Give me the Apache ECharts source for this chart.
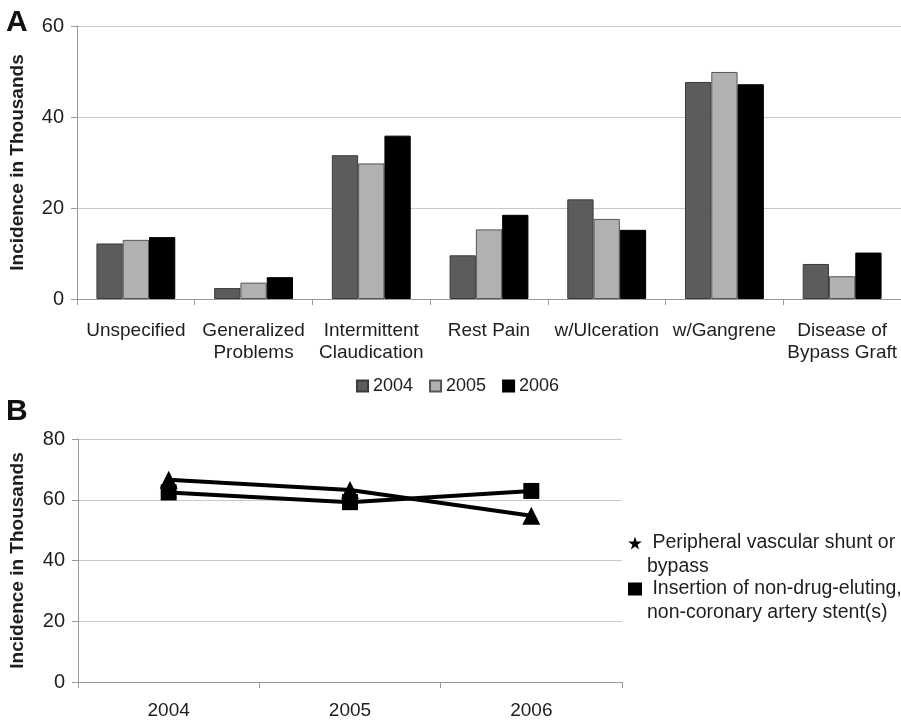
<!DOCTYPE html>
<html>
<head>
<meta charset="utf-8">
<script src="https://cdn.jsdelivr.net/npm/echarts@6/dist/echarts.min.js"></script>
<style>
  html, body { margin: 0; padding: 0; background: #fff; }
  #chart { width: 901px; height: 723px; }
</style>
</head>
<body>
<div id="chart"></div>
<script>
// ---- Panel A data ----
const categoriesA = ['Unspecified', 'Generalized\nProblems', 'Intermittent\nClaudication', 'Rest Pain', 'w/Ulceration', 'w/Gangrene', 'Disease of\nBypass Graft'];
const yearsA = ['2004', '2005', '2006'];
const values2004 = [12.2, 2.4, 31.6, 9.6, 21.9, 47.7, 7.7];
const values2005 = [13.0, 3.6, 29.8, 15.3, 17.6, 49.9, 5.0];
const values2006 = [13.6, 4.8, 35.9, 18.5, 15.2, 47.2, 10.2];
const yTicksA = [0, 20, 40, 60];

// ---- Panel B data ----
const yearsB = ['2004', '2005', '2006'];
const shuntName = 'Peripheral vascular shunt or bypass';
const stentName = 'Insertion of non-drug-eluting, non-coronary artery stent(s)';
const shuntValues = [66.6, 63.2, 54.7];
const stentValues = [62.4, 59.2, 62.9];
const yTicksB = [0, 20, 40, 60, 80];

const FONT = "'Liberation Sans', Arial, Helvetica, sans-serif";
const gridColor = '#c9c9c9';
const axisColor = '#9a9a9a';
const textColor = '#1e1e1e';
const starPath = 'path://M50,0 L61,35 L98,35 L68,57 L79,91 L50,70 L21,91 L32,57 L2,35 L39,35 Z';

const chart = echarts.init(document.getElementById('chart'), null, { renderer: 'canvas' });

const option = {
  backgroundColor: '#fff',
  animation: false,
  textStyle: { fontFamily: FONT },
  title: [
    { text: 'A', left: 6, top: 8, padding: 0, textStyle: { fontFamily: FONT, fontSize: 30, fontWeight: 'bold', color: '#111' } },
    { text: 'B', left: 6, top: 397, padding: 0, textStyle: { fontFamily: FONT, fontSize: 30, fontWeight: 'bold', color: '#111' } }
  ],
  grid: [
    { left: 74, right: -3, top: 26, height: 273 },
    { left: 75, right: 279, top: 439, height: 243 }
  ],
  legend: [
    {
      data: yearsA.map(n => ({ name: n, icon: 'rect' })),
      left: 356, top: 377,
      itemWidth: 11, itemHeight: 11, itemGap: 16,
      padding: 0,
      selectedMode: false,
      textStyle: { fontFamily: FONT, fontSize: 18, color: textColor }
    },
    {
      orient: 'vertical',
      data: [
        { name: shuntName, icon: starPath },
        { name: stentName, icon: 'rect' }
      ],
      left: 628, top: 507,
      itemWidth: 14, itemHeight: 13, itemGap: -26,
      padding: 0,
      selectedMode: false,
      formatter: function (name) {
        if (name === shuntName) return '\n Peripheral vascular shunt or\nbypass';
        return '\n Insertion of non-drug-eluting,\nnon-coronary artery stent(s)';
      },
      itemStyle: { color: '#000', borderWidth: 0 },
      textStyle: { fontFamily: FONT, fontSize: 19.5, lineHeight: 24, color: textColor }
    }
  ],
  xAxis: [
    {
      type: 'category', gridIndex: 0, data: categoriesA,
      axisLine: { lineStyle: { color: axisColor, width: 1 } },
      axisTick: { show: true, length: 6, lineStyle: { color: axisColor } },
      axisLabel: { interval: 0, margin: 21, fontFamily: FONT, fontSize: 19, lineHeight: 22, color: textColor }
    },
    {
      type: 'category', gridIndex: 1, data: yearsB,
      axisLine: { lineStyle: { color: axisColor, width: 1 } },
      axisTick: { show: true, length: 6, lineStyle: { color: axisColor } },
      axisLabel: { interval: 0, margin: 19, fontFamily: FONT, fontSize: 19, color: textColor }
    }
  ],
  yAxis: [
    {
      type: 'value', gridIndex: 0, min: yTicksA[0], max: yTicksA[yTicksA.length - 1], interval: 20,
      name: 'Incidence in Thousands', nameLocation: 'middle', nameGap: 50,
      nameTextStyle: { fontFamily: FONT, fontSize: 19, fontWeight: 'bold', color: textColor },
      axisLine: { show: true, lineStyle: { color: axisColor, width: 1 } },
      axisTick: { show: true, length: 6, lineStyle: { color: axisColor } },
      splitLine: { lineStyle: { color: gridColor, width: 1 } },
      axisLabel: { margin: 13, fontFamily: FONT, fontSize: 20, color: textColor }
    },
    {
      type: 'value', gridIndex: 1, min: yTicksB[0], max: yTicksB[yTicksB.length - 1], interval: 20,
      name: 'Incidence in Thousands', nameLocation: 'middle', nameGap: 51,
      nameTextStyle: { fontFamily: FONT, fontSize: 19, fontWeight: 'bold', color: textColor },
      axisLine: { show: true, lineStyle: { color: axisColor, width: 1 } },
      axisTick: { show: true, length: 6, lineStyle: { color: axisColor } },
      splitLine: { lineStyle: { color: gridColor, width: 1 } },
      axisLabel: { margin: 13, fontFamily: FONT, fontSize: 20, color: textColor }
    }
  ],
  series: [
    { name: '2004', type: 'bar', xAxisIndex: 0, yAxisIndex: 0, data: values2004, barGap: '0%', barCategoryGap: '33%',
      itemStyle: { color: '#5c5c5c', borderColor: '#3a3a3a', borderWidth: 1 } },
    { name: '2005', type: 'bar', xAxisIndex: 0, yAxisIndex: 0, data: values2005, barGap: '0%', barCategoryGap: '33%',
      itemStyle: { color: '#b1b1b1', borderColor: '#555', borderWidth: 1 } },
    { name: '2006', type: 'bar', xAxisIndex: 0, yAxisIndex: 0, data: values2006, barGap: '0%', barCategoryGap: '33%',
      itemStyle: { color: '#000', borderColor: '#000', borderWidth: 1 } },
    { name: shuntName, type: 'line', xAxisIndex: 1, yAxisIndex: 1, data: shuntValues,
      symbol: 'triangle', symbolSize: [18, 18], showAllSymbol: true, z: 3,
      lineStyle: { color: '#000', width: 4 }, itemStyle: { color: '#000' } },
    { name: stentName, type: 'line', xAxisIndex: 1, yAxisIndex: 1, data: stentValues,
      symbol: 'rect', symbolSize: 16, showAllSymbol: true, z: 4,
      lineStyle: { color: '#000', width: 4 }, itemStyle: { color: '#000' } }
  ]
};
chart.setOption(option);
</script>
</body>
</html>
